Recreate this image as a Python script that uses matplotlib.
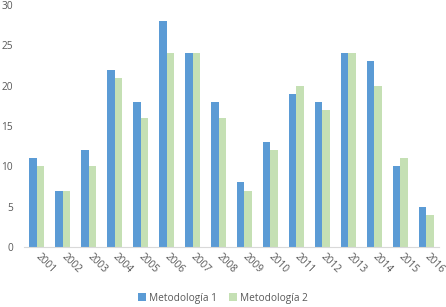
import matplotlib
matplotlib.use("Agg")
import matplotlib.pyplot as plt
import numpy as np

years = ["2001", "2002", "2003", "2004", "2005", "2006", "2007", "2008",
         "2009", "2010", "2011", "2012", "2013", "2014", "2015", "2016"]
metodologia1 = [11, 7, 12, 22, 18, 28, 24, 18, 8, 13, 19, 18, 24, 23, 10, 5]
metodologia2 = [10, 7, 10, 21, 16, 24, 24, 16, 7, 12, 20, 17, 24, 20, 11, 4]

plt.rcParams['font.family'] = ['Open Sans', 'DejaVu Sans']
fig = plt.figure(figsize=(4.46, 3.07), dpi=100)
ax = fig.add_axes([24/446, 60/307, 415/446, 242/307])

x = np.arange(len(years))
w = 0.29
ax.bar(x - w/2, metodologia1, w, color='#5B9BD5', label='Metodología 1', zorder=2)
ax.bar(x + w/2, metodologia2, w, color='#C5E0B4', label='Metodología 2', zorder=2)

ax.set_xlim(-0.5, len(years) - 0.5)
ax.set_ylim(0, 30)
ax.set_yticks(range(0, 31, 5))
ax.set_xticks(x)
ax.set_xticklabels(years, rotation=-45, rotation_mode='anchor', ha='left', va='center')
for s in ['top', 'right', 'left']:
    ax.spines[s].set_visible(False)
ax.spines['bottom'].set_color('#D9D9D9')
ax.tick_params(axis='both', length=0, colors='#595959', labelsize=7.3)
ax.tick_params(axis='x', pad=6)
ax.tick_params(axis='y', pad=8)

fig.legend(loc='center', bbox_to_anchor=(0.5, 9/307), ncol=2, frameon=False,
           fontsize=7.3, labelcolor='#595959', handlelength=0.8, handleheight=0.8,
           columnspacing=1.2, handletextpad=0.3)

fig.savefig('out.png', dpi=100)
